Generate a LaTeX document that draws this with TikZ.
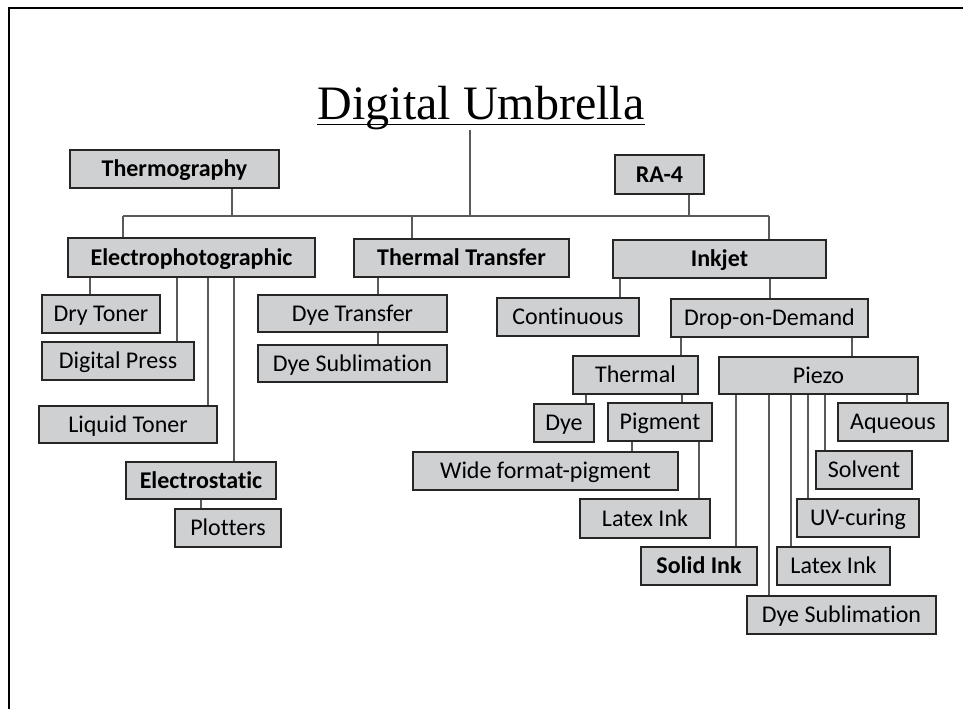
\documentclass[tikz,border=0pt]{standalone}
\usepackage{fontspec}
\setmainfont{Carlito}[Ligatures=NoCommon]
\newfontfamily\titlefont{Liberation Serif}
\usepackage{tikz}
\usepackage{xcolor}
\usetikzlibrary{positioning,calc}
\definecolor{boxgray}{RGB}{207,208,210}
\definecolor{linegray}{RGB}{90,90,90}

\begin{document}
\begin{tikzpicture}[x=0.5pt, y=-0.5pt,
    box/.style={draw=black!85, line width=0.6pt, fill=boxgray, minimum height=19pt,
                inner sep=0pt, text height=10pt, text depth=2.3pt,
                font=\fontsize{12}{14}\selectfont},
    link/.style={draw=linegray, line width=0.55pt}]
    \useasboundingbox (0,0) rectangle (963,709);

    % Slide frame
    \draw[line width=0.55pt] (963,8) -- (9,8) -- (9,709);

    % Title
    \node[inner sep=0pt, anchor=base, font=\titlefont\fontsize{24}{28}\selectfont] (title) at (481,119) {Digital Umbrella};
    \draw[line width=0.7pt] ([yshift=-2.6pt]title.base west) -- ([yshift=-2.6pt]title.base east);

    % Top level boxes
    \node[box, minimum width=104.5pt] (thermo) at (174.5,169) {\textbf{Thermography}};
    \node[box, minimum width=44.5pt, minimum height=19.5pt] (ra4) at (659.5,174.5) {\textbf{RA-4}};
    \node[box, minimum width=123.5pt, minimum height=19.5pt] (epg) at (191.5,257.5) {\textbf{Electrophotographic}};
    \node[box, minimum width=107.5pt] (tt) at (461.5,258) {\textbf{Thermal Transfer}};
    \node[box, minimum width=106.5pt] (ink) at (719.5,259) {\textbf{Inkjet}};

    % Electrophotographic branch
    \node[box, minimum width=59pt] (dry) at (101,314) {Dry Toner};
    \node[box, minimum width=76pt] (dpress) at (118,361) {Digital Press};
    \node[box, minimum width=89pt, minimum height=18.5pt] (liquid) at (128,424.5) {Liquid Toner};
    \node[box, minimum width=75pt, minimum height=18.5pt] (estatic) at (201,480.5) {\textbf{Electrostatic}};
    \node[box, minimum width=53pt] (plot) at (228,528) {Plotters};

    % Thermal transfer branch
    \node[box, minimum width=94.5pt, minimum height=18.5pt] (dyetr) at (352.5,313.5) {Dye Transfer};
    \node[box, minimum width=94.5pt, minimum height=18.5pt] (dyesub) at (352.5,363.5) {Dye Sublimation};

    % Inkjet branch
    \node[box, minimum width=71pt] (cont) at (568,317) {Continuous};
    \node[box, minimum width=98.5pt] (dod) at (769.5,318) {Drop-on-Demand};
    \node[box, minimum width=62.5pt] (therm) at (635.5,375) {Thermal};
    \node[box, minimum width=99.5pt, minimum height=18.5pt] (piezo) at (818.5,375.5) {Piezo};
    \node[box, minimum width=30pt] (dye) at (564,423) {Dye};
    \node[box, minimum width=52pt] (pigm) at (660,422) {Pigment};
    \node[box, minimum width=55pt] (aqu) at (893,422) {Aqueous};
    \node[box, minimum width=132.5pt] (wide) at (545.5,471) {Wide format-pigment};
    \node[box, minimum width=48pt] (solv) at (864,470) {Solvent};
    \node[box, minimum width=65pt, minimum height=19.5pt] (latexa) at (645,518.5) {Latex Ink};
    \node[box, minimum width=61pt] (uv) at (858,518) {UV-curing};
    \node[box, minimum width=58pt] (solid) at (699,566) {\textbf{Solid Ink}};
    \node[box, minimum width=56.5pt] (latexb) at (833.5,566) {Latex Ink};
    \node[box, minimum width=94.5pt] (dsubb) at (841.5,615) {Dye Sublimation};

    % Bus line
    \coordinate (busL) at (123,216);
    \coordinate (busR) at (769,216);
    \draw[link] (busL) -- (busR);
    \draw[link] (470,0 |- title.south) -- (470,0 |- busL);
    \draw[link] (232,0 |- thermo.south) -- (232,0 |- busL);
    \draw[link] (689,0 |- ra4.south) -- (689,0 |- busL);
    \draw[link] (busL) -- (busL |- epg.north);
    \draw[link] (412,0 |- busL) -- (412,0 |- tt.north);
    \draw[link] (busR) -- (busR |- ink.north);

    % Connectors
    \draw[link] (90,0 |- epg.south) -- (90,0 |- dry.north);
    \draw[link] (177,0 |- epg.south) -- (177,0 |- dpress.north);
    \draw[link] (208,0 |- epg.south) -- (208,0 |- liquid.north);
    \draw[link] (234,0 |- epg.south) -- (234,0 |- estatic.north);
    \draw[link] (201,0 |- estatic.south) -- (201,0 |- plot.north);
    \draw[link] (378,0 |- tt.south) -- (378,0 |- dyetr.north);
    \draw[link] (378,0 |- dyetr.south) -- (378,0 |- dyesub.north);
    \draw[link] (620,0 |- ink.south) -- (620,0 |- cont.north);
    \draw[link] (770,0 |- ink.south) -- (770,0 |- dod.north);
    \draw[link] (681,0 |- dod.south) -- (681,0 |- therm.north);
    \draw[link] (852,0 |- dod.south) -- (852,0 |- piezo.north);
    \draw[link] (586,0 |- therm.south) -- (586,0 |- dye.north);
    \draw[link] (682,0 |- therm.south) -- (682,0 |- pigm.north);
    \draw[link] (632,0 |- pigm.south) -- (632,0 |- wide.north);
    \draw[link] (699,0 |- pigm.south) -- (699,0 |- latexa.north);
    \draw[link] (907,0 |- piezo.south) -- (907,0 |- aqu.north);
    \draw[link] (825,0 |- piezo.south) -- (825,0 |- solv.north);
    \draw[link] (808,0 |- piezo.south) -- (808,0 |- uv.north);
    \draw[link] (791,0 |- piezo.south) -- (791,0 |- latexb.north);
    \draw[link] (769,0 |- piezo.south) -- (769,0 |- dsubb.north);
    \draw[link] (736,0 |- piezo.south) -- (736,0 |- solid.north);
\end{tikzpicture}
\end{document}
